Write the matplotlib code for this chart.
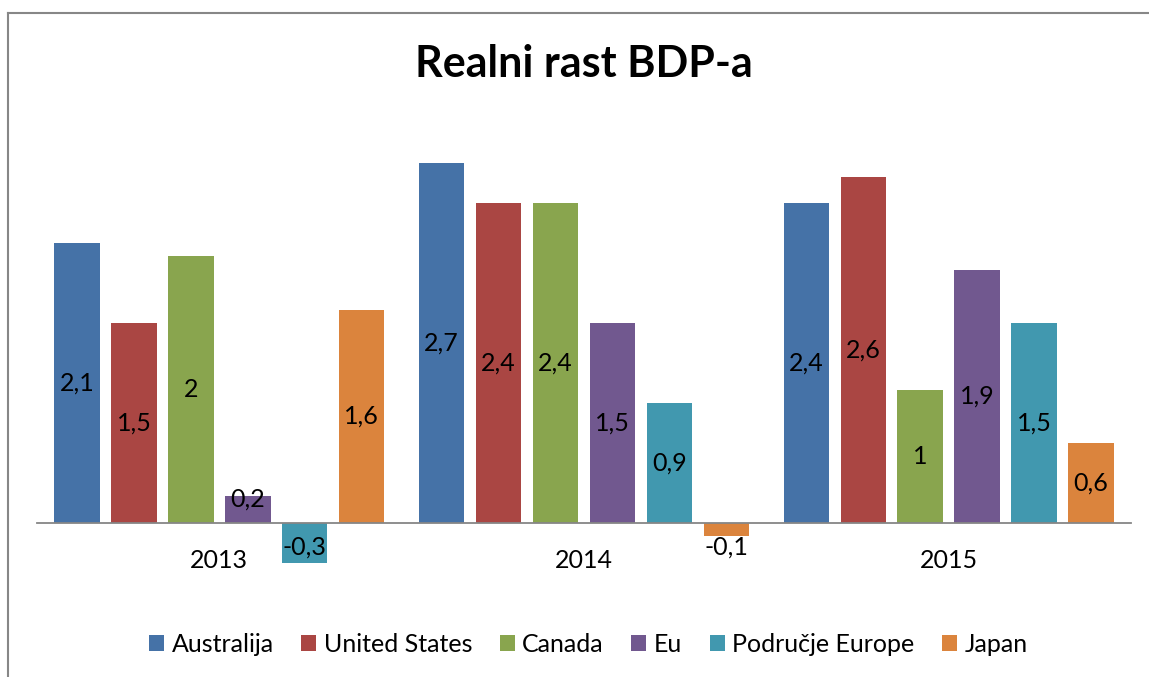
import matplotlib as mpl
mpl.use('Agg')
import matplotlib.pyplot as plt
from matplotlib.patches import Patch
from matplotlib.lines import Line2D
import numpy as np

plt.rcParams['font.family'] = ['Lato', 'DejaVu Sans']

years = ['2013', '2014', '2015']
series = ['Australija', 'United States', 'Canada', 'Eu', 'Područje Europe', 'Japan']
australija = [2.1, 2.7, 2.4]
united_states = [1.5, 2.4, 2.6]
canada = [2.0, 2.4, 1.0]
eu = [0.2, 1.5, 1.9]
podrucje_europe = [-0.3, 0.9, 1.5]
japan = [1.6, -0.1, 0.6]
colors = ['#4572A7', '#AA4643', '#89A54E', '#71588F', '#4198AF', '#DB843D']

values = [australija, united_states, canada, eu, podrucje_europe, japan]

fig = plt.figure(figsize=(11.49, 6.77), dpi=100)
ax = fig.add_axes([37 / 1149, 0.129, 1094 / 1149, 0.689])

x = np.arange(len(years))
step = 57 / 365.
width = 45.5 / 365.
first = -0.5 + 40 / 365.

for i, (name, vals) in enumerate(zip(series, values)):
    pos = x + first + i * step
    ax.bar(pos, vals, width, color=colors[i], label=name, zorder=2)
    for p, v in zip(pos, vals):
        ly = v / 2.
        if abs(ly) < 0.18:
            ly = 0.18 if v > 0 else -0.18
        lbl = ('%g' % v).replace('.', ',')
        ax.text(p, ly, lbl, ha='center', va='center', fontsize=18, color='black', zorder=3)

ax.set_xlim(-0.5, 2.5)
ax.set_ylim(-0.5, 3.0)
for s in ['top', 'right', 'left']:
    ax.spines[s].set_visible(False)
ax.spines['bottom'].set_position(('data', 0))
ax.spines['bottom'].set_color('#868686')
ax.spines['bottom'].set_linewidth(1.3)
ax.set_yticks([])
ax.set_xticks(x)
ax.set_xticklabels(years, fontsize=18)
ax.tick_params(axis='x', length=0, pad=19)

fig.text(0.508, 0.905, 'Realni rast BDP-a', ha='center', va='center',
         fontsize=31, fontweight='bold')

handles = [Patch(facecolor=c, edgecolor='none') for c in colors]
fig.legend(handles, series, loc='center', bbox_to_anchor=(0.512, 1 - 644 / 677.),
           ncol=6, frameon=False, fontsize=18, handlelength=0.6, handleheight=0.6,
           handletextpad=0.3, columnspacing=1.1)

# chart border (left and top only visible)
bx = 8 / 1149.
by = 1 - 13 / 677.
fig.add_artist(Line2D([bx, bx], [0, by], transform=fig.transFigure, color='#878787', lw=1.5))
fig.add_artist(Line2D([bx, 1], [by, by], transform=fig.transFigure, color='#878787', lw=1.5))

plt.savefig('out.png', dpi=100)
plt.close()
